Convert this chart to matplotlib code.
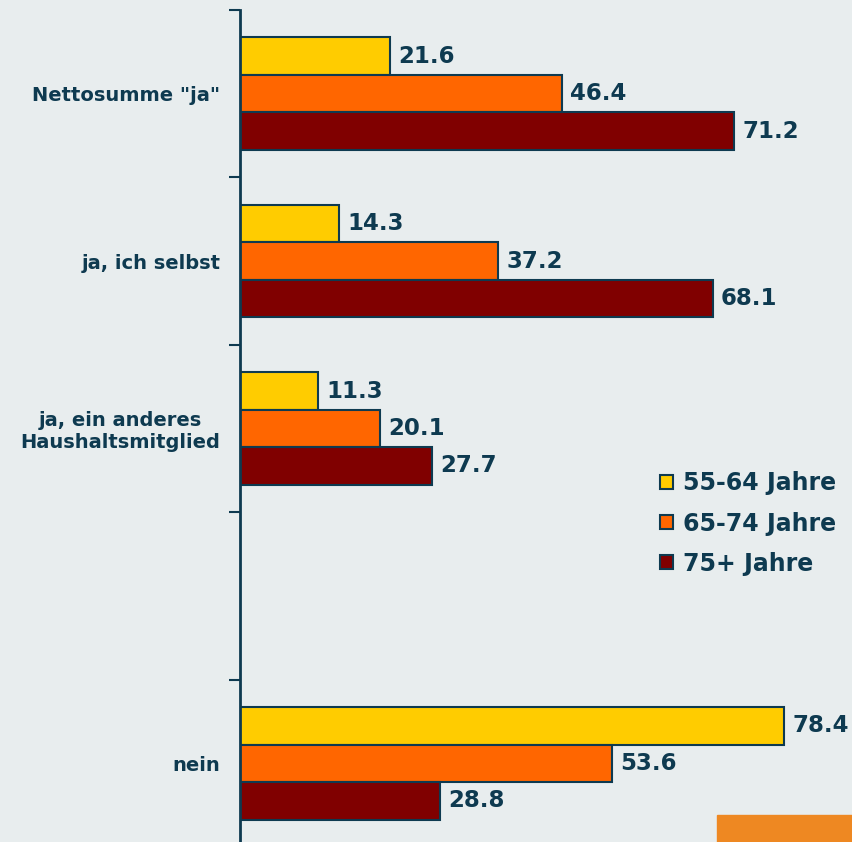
import numpy as np
import matplotlib.pyplot as plt
from matplotlib.patches import Rectangle

# categories (the fourth slot is left empty in the chart)
categories = ['Nettosumme "ja"', 'ja, ich selbst', 'ja, ein anderes\nHaushaltsmitglied', '', 'nein']
series = ['55-64 Jahre', '65-74 Jahre', '75+ Jahre']
v_55_64 = [21.6, 14.3, 11.3, None, 78.4]
v_65_74 = [46.4, 37.2, 20.1, None, 53.6]
v_75 = [71.2, 68.1, 27.7, None, 28.8]

colors = ['#FFCC00', '#FF6600', '#800000']
navy = '#0E3A50'
bg = '#E8EDEE'

plt.rcParams['font.family'] = ['DejaVu Sans']
plt.rcParams['font.weight'] = 'bold'

fig = plt.figure(figsize=(8.53, 8.42), dpi=100, facecolor=bg)
ax = fig.add_axes([240 / 853, -5 / 842, 613 / 853, 837 / 842])
ax.set_facecolor(bg)

h = 0.224
pos = np.arange(len(categories))
for k, (vals, col, name) in enumerate(zip([v_55_64, v_65_74, v_75], colors, series)):
    idx = [i for i, v in enumerate(vals) if v is not None]
    ys = pos[idx] + (k - 1) * h
    w = [vals[i] for i in idx]
    ax.barh(ys, w, height=h, color=col, edgecolor=navy, linewidth=1.5, label=name)
    for y, v in zip(ys, w):
        ax.text(v + 1.2, y, f'{v:.1f}', va='center', ha='left',
                fontsize=16.5, fontweight='bold', color=navy)

ax.set_xlim(0, 88.3)
ax.set_ylim(len(categories) - 0.5, -0.5)

# ticks at slot boundaries, labels at slot centres
ax.set_yticks(np.arange(len(categories) + 1) - 0.5)
ax.set_yticklabels([])
ax.tick_params(axis='y', which='major', direction='out', length=8, width=1.5, color=navy)
ax.set_yticks(pos, minor=True)
ax.set_yticklabels(categories, minor=True, fontsize=14, fontweight='bold',
                   color=navy, multialignment='center')
ax.tick_params(axis='y', which='minor', length=0, pad=14)

ax.set_xticks([])
for s in ['top', 'right', 'bottom']:
    ax.spines[s].set_visible(False)
ax.spines['left'].set_color(navy)
ax.spines['left'].set_linewidth(2)

leg = ax.legend(loc='upper left', bbox_to_anchor=((651 - 240) / 613, (842 - 462 + 5) / 837),
                frameon=False, fontsize=17, handlelength=0.52, handleheight=0.52,
                handletextpad=0.45, labelspacing=0.68, borderaxespad=0)
for t in leg.get_texts():
    t.set_color(navy)
    t.set_fontweight('bold')

fig.patches.append(Rectangle((717 / 853, 0), 136 / 853, 27 / 842,
                             transform=fig.transFigure, color='#EE8822', zorder=0))

fig.savefig('out.png', dpi=100, facecolor=bg)
